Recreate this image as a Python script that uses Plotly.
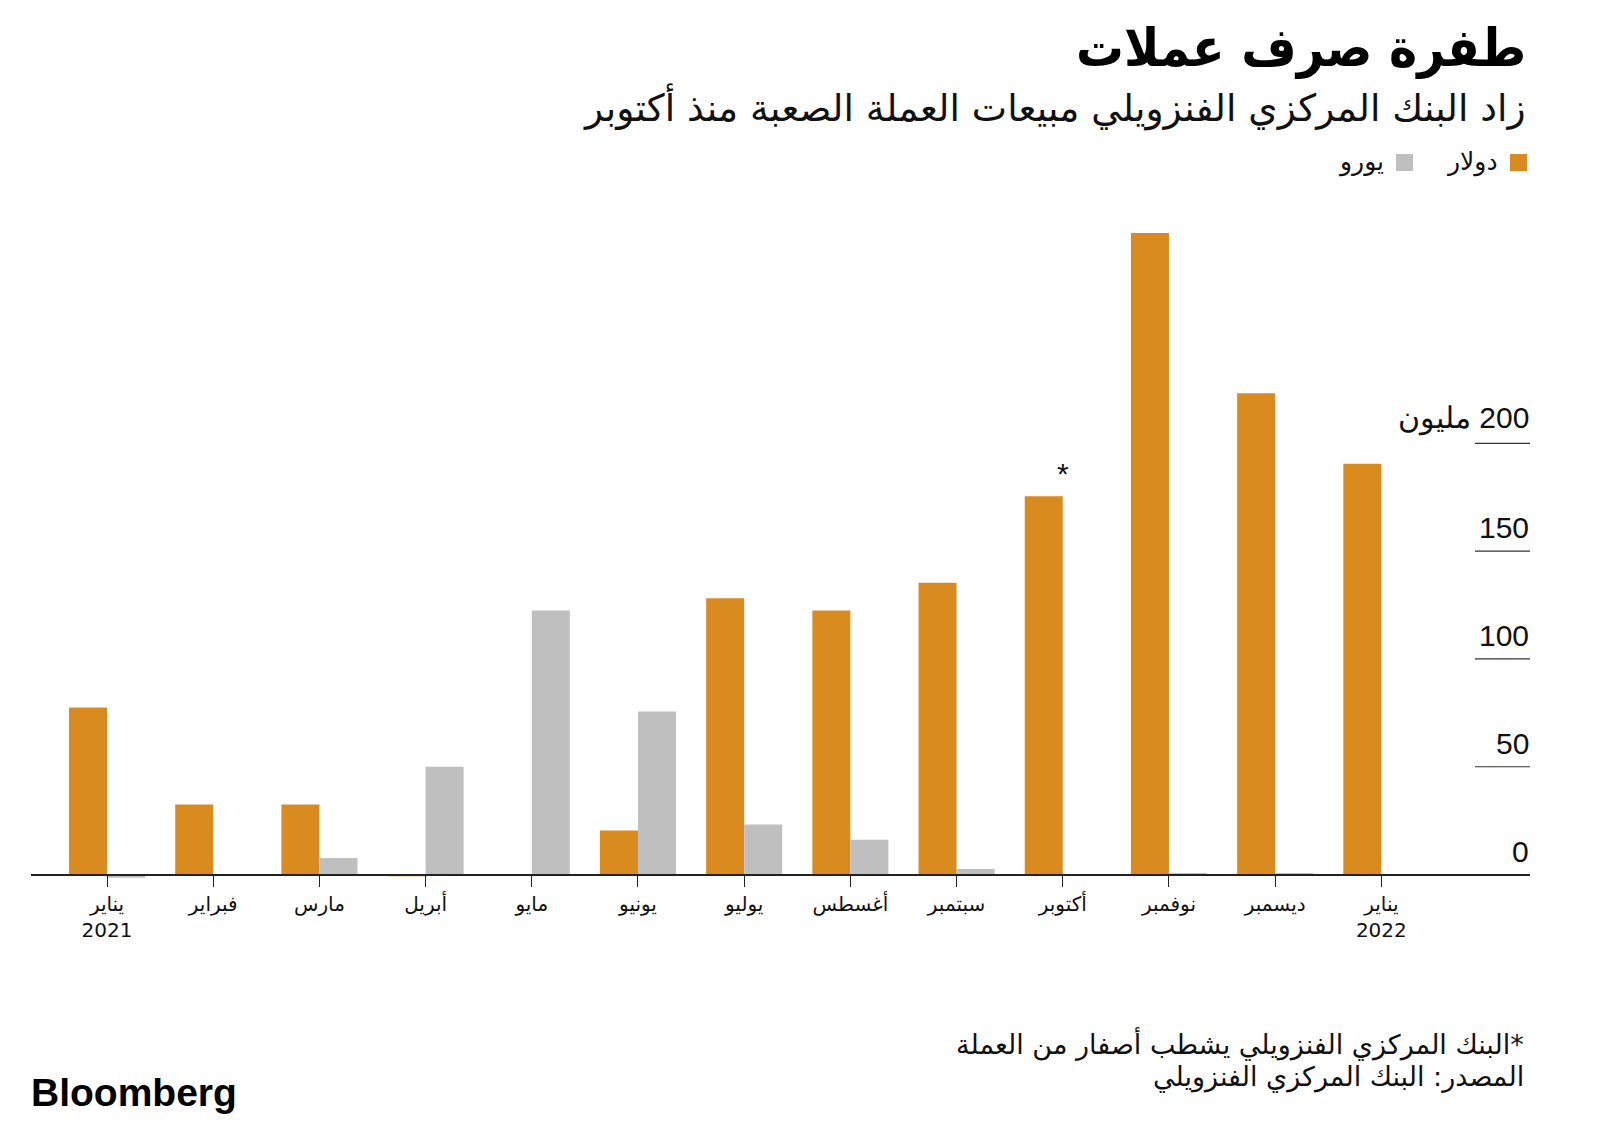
import plotly.graph_objects as go

# months, Jan 2021 .. Jan 2022 (Arabic labels)
months = ["يناير<br>2021", "فبراير", "مارس", "أبريل", "مايو", "يونيو", "يوليو",
          "أغسطس", "سبتمبر", "أكتوبر", "نوفمبر", "ديسمبر", "يناير<br>2022"]
dollar = [77.5, 32.5, 32.5, -0.8, -0.4, 20.4, 128.2, 122.5, 135.4, 175.5, 297.6, 223.3, 190.6]
euro = [-1.5, -0.5, 7.7, 50.0, 122.5, 75.6, 23.2, 16.1, 2.6, 0.0, 0.5, 0.5, 0.0]
y_ticks = [0, 50, 100, 150, 200]
y_tick_text = ["0", "50", "100", "150", "مليون\u200e 200"]

ORANGE = "#D98B20"
GREY = "#BFBFBF"
AR_FONT = "DejaVu Sans"
AR_COND = "DejaVu Sans Condensed, DejaVu Sans"
NUM_FONT = "Liberation Sans, Arial"

OFF = 8  # page body margin
W, H = 1600 - 2 * OFF, 1122 - 2 * OFF
# plot area in screen pixels: x 31..1530, y 206..881
L, R, T, B = 31 - OFF, W - (1530 - OFF), 206 - OFF, H - (881 - OFF)
YMIN, YMAX = -3, 310.1


def px(x):
    return (x - OFF - L) / (W - L - R)


def py(y):
    return (H - B - (y - OFF)) / (H - T - B)


x = list(range(len(months)))

fig = go.Figure()
fig.add_trace(go.Bar(x=x, y=dollar, name="دولار", marker_color=ORANGE, marker_line_width=0))
fig.add_trace(go.Bar(x=x, y=euro, name="يورو", marker_color=GREY, marker_line_width=0))

fig.update_layout(
    width=W, height=H,
    margin=dict(l=L, r=R, t=T, b=B),
    plot_bgcolor="white", paper_bgcolor="white",
    barmode="group", bargap=0.284, bargroupgap=0,
    showlegend=False,
    font=dict(family=AR_FONT, color="#111"),
)
fig.update_xaxes(
    range=[-0.716, 13.4], tickvals=x, ticktext=months,
    showgrid=False, zeroline=False,
    showline=True, linecolor="#222", linewidth=1.5,
    anchor="free", position=(0 - YMIN) / (YMAX - YMIN),
    ticks="outside", ticklen=12, tickcolor="#222", tickwidth=1,
    tickfont=dict(size=20, family=AR_FONT, color="#111"),
)
fig.update_yaxes(range=[YMIN, YMAX], showgrid=False, zeroline=False,
                 showticklabels=False, showline=False)

# right-hand tick labels with short rules under them
for v, t in zip(y_ticks, y_tick_text):
    if v != 0:
        fig.add_shape(type="line", xref="paper", yref="y", x0=px(1475), x1=px(1530), y0=v, y1=v,
                      line=dict(color="#333", width=1.2))
    fig.add_annotation(xref="paper", yref="y", x=px(1531), y=v, text=t, showarrow=False,
                       xanchor="right", yanchor="bottom", yshift=5,
                       font=dict(size=30, family=NUM_FONT, color="#111"))

# asterisk over October
fig.add_annotation(x=x[9], y=dollar[9], text="*", showarrow=False, yanchor="bottom", yshift=4,
                   font=dict(size=30, family=NUM_FONT, color="#111"))

# title / subtitle
fig.add_annotation(xref="paper", yref="paper", x=px(1528), y=py(48), text="<b>طفرة صرف عملات</b>",
                   showarrow=False, xanchor="right", yanchor="middle",
                   font=dict(size=53, family=AR_COND, color="#000"))
fig.add_annotation(xref="paper", yref="paper", x=px(1528), y=py(107),
                   text="زاد البنك المركزي الفنزويلي مبيعات العملة الصعبة منذ أكتوبر",
                   showarrow=False, xanchor="right", yanchor="middle",
                   font=dict(size=37.5, family=AR_FONT, color="#111"))

# legend (right to left)
legend_items = [("دولار", ORANGE, 1527), ("يورو", GREY, 1413)]
for name, col, right in legend_items:
    fig.add_shape(type="rect", xref="paper", yref="paper", x0=px(right - 17), x1=px(right),
                  y0=py(171), y1=py(154), fillcolor=col, line_width=0)
    fig.add_annotation(xref="paper", yref="paper", x=px(right - 27), y=py(162), text=name,
                       showarrow=False, xanchor="right", yanchor="middle",
                       font=dict(size=25, family=AR_FONT, color="#111"))

# footnotes
fig.add_annotation(xref="paper", yref="paper", x=px(1526), y=py(1043),
                   text="البنك المركزي الفنزويلي يشطب أصفار من العملة*",
                   showarrow=False, xanchor="right", yanchor="middle",
                   font=dict(size=27, family=AR_FONT, color="#111"))
fig.add_annotation(xref="paper", yref="paper", x=px(1526), y=py(1077),
                   text="المصدر: البنك المركزي الفنزويلي",
                   showarrow=False, xanchor="right", yanchor="middle",
                   font=dict(size=27, family=AR_FONT, color="#111"))
fig.add_annotation(xref="paper", yref="paper", x=px(29), y=py(1092), text="<b>Bloomberg</b>",
                   showarrow=False, xanchor="left", yanchor="middle",
                   font=dict(size=39, family=NUM_FONT, color="#000"))

fig.write_html("out.html")
